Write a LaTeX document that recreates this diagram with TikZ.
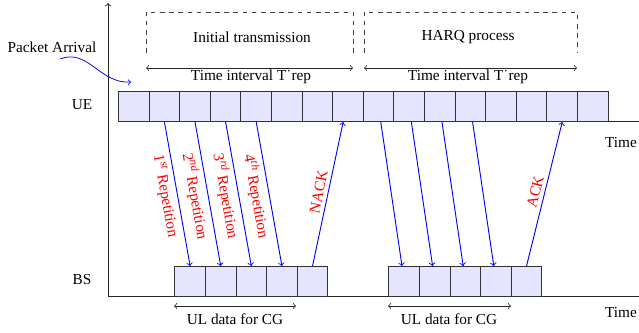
\documentclass[tikz,border=0pt]{standalone}
\usepackage{fontspec}
\setmainfont{Liberation Serif}
\newcommand{\ord}[1]{\textsuperscript{\fontsize{7.5pt}{8pt}\selectfont\itshape #1}}
\begin{document}
\begin{tikzpicture}[x=0.654pt,y=-0.654pt,
  slot/.style={draw=black!80, fill=blue!10, line width=0.7pt,
    minimum width=20.0124pt, minimum height=19.62pt, inner sep=0pt, anchor=north west},
  msg/.style={blue, ->, semithick},
  lbl/.style={red, inner sep=2.5pt},
  axis/.style={black!85, line width=0.6pt},
  frame/.style={dashed, black!75, line width=0.5pt},
  span/.style={<->, black!85, line width=0.5pt},
  txt/.style={inner sep=0pt}]
\useasboundingbox (0,0) rectangle (639,333);

% time axes
\coordinate (o) at (108,296);
\coordinate (ytop) at (108,3);
\coordinate (bsend) at (639,296);
\coordinate (uestart) at (118,121);
\coordinate (ueend) at (639,121);
\draw[axis, ->] (o) -- (ytop);
\draw[axis] (o) -- (bsend);
\draw[axis] (uestart) -- (ueend);

% phase frames (open at the bottom)
\draw[frame] (146,53) -- (146,12) -- (353,12) -- (353,53);
\draw[frame] (364,53) -- (364,12) -- (577,12) -- (577,53);
\node[txt] (init) at (252,37) {Initial transmission};
\node[txt] (harq) at (468,37) {HARQ process};

% repetition intervals
\coordinate (ia) at (146,68);
\coordinate (ib) at (353,68);
\coordinate (ha) at (364,68);
\coordinate (hb) at (577,68);
\draw[span] (ia) -- (ib);
\draw[span] (ha) -- (hb);
\node[txt] (t1) at (251,77) {Time interval T˙rep};
\node[txt] (t2) at (468,77) {Time interval T˙rep};

% row and axis labels
\node[txt] (ue) at (82,105) {UE};
\node[txt] (bs) at (82,280) {BS};
\node[txt] (time1) at (621,143) {Time};
\node[txt] (time2) at (621,313) {Time};
\node[txt] (pa) at (52,47) {Packet Arrival};
\coordinate (pastart) at (60,59);
\coordinate (paend) at (131,82);
\draw[blue, ->, line width=0.5pt] (pastart) .. controls (88,48) and (100,84) .. (paend);

% UE slots
\foreach \i in {0,...,15}
  \node[slot] (ue\i) at ({118+30.6*\i},91) {};

% BS slots, two groups
\foreach \i in {0,...,4} {
  \node[slot] (bsa\i) at ({174.3+30.6*\i},266) {};
  \node[slot] (bsb\i) at ({388.3+30.6*\i},266) {};
}

% initial repetitions
\draw[msg] (ue1.south) -- node[lbl, sloped, below] {1\ord{st} Repetition} (bsa0.north);
\draw[msg] (ue2.south) -- node[lbl, sloped, below] {2\ord{nd} Repetition} (bsa1.north);
\draw[msg] (ue3.south) -- node[lbl, sloped, below] {3\ord{rd} Repetition} (bsa2.north);
\draw[msg] (ue4.south) -- node[lbl, sloped, below] {4\ord{th} Repetition} (bsa3.north);
\draw[msg] (bsa4.north) -- node[lbl, sloped, above] {NACK} ([xshift=-3.2pt]ue7.south);

% HARQ retransmissions
\foreach \u/\b in {8/0,9/1,10/2,11/3}
  \draw[msg] ([xshift=1.4pt]ue\u.south) -- ([xshift=-1.4pt]bsb\b.north);
\draw[msg] (bsb4.north) -- node[lbl, sloped, above] {ACK} (ue14.south);

% uplink data spans
\coordinate (da) at (174,306);
\coordinate (db) at (296,306);
\coordinate (dc) at (388,306);
\coordinate (dd) at (511,306);
\draw[span] (da) -- (db);
\draw[span] (dc) -- (dd);
\node[txt] (ul1) at (235,319) {UL data for CG};
\node[txt] (ul2) at (449,319) {UL data for CG};
\end{tikzpicture}
\end{document}
